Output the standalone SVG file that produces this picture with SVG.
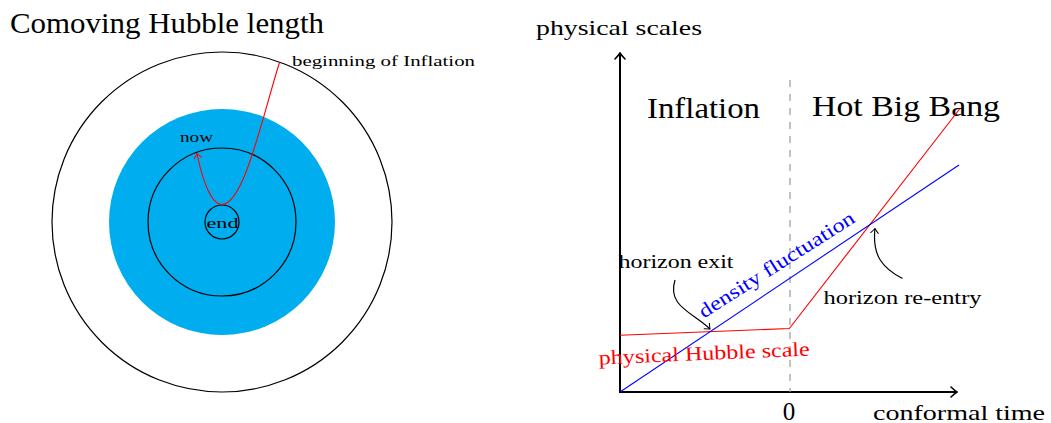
<svg xmlns="http://www.w3.org/2000/svg" width="1051" height="423" viewBox="0 0 1051 423">
<style>
text{font-family:"Liberation Serif","Times New Roman",serif;fill:#000}
.ln{fill:none;stroke:#000;stroke-width:1.2}
.red{fill:none;stroke:#ff0000;stroke-width:1.1}
.blue{fill:none;stroke:#0000ff;stroke-width:1.1}
.axis{fill:none;stroke:#000;stroke-width:2}
</style>
<defs>
<marker id="ab" viewBox="-8 -6 9 12" markerWidth="9" markerHeight="12" refX="0" refY="0" orient="auto" markerUnits="userSpaceOnUse">
<path d="M-6,-5 Q-2,-1.2 0,0 Q-2,1.2 -6,5" fill="none" stroke="#000" stroke-width="1.6" stroke-linecap="round"/>
</marker>
<marker id="at" viewBox="-6 -5 7 10" markerWidth="7" markerHeight="10" refX="0" refY="0" orient="auto" markerUnits="userSpaceOnUse">
<path d="M-4.5,-3.8 Q-1.5,-1 0,0 Q-1.5,1 -4.5,3.8" fill="none" stroke="#000" stroke-width="1" stroke-linecap="round"/>
</marker>
<marker id="ar" viewBox="-6 -5 7 10" markerWidth="7" markerHeight="10" refX="0" refY="0" orient="auto" markerUnits="userSpaceOnUse">
<path d="M-4.5,-3.8 Q-1.5,-1 0,0 Q-1.5,1 -4.5,3.8" fill="none" stroke="#ff0000" stroke-width="1" stroke-linecap="round"/>
</marker>
</defs>

<g id="left-panel">
<text x="10" y="33" font-size="28.5" textLength="314" lengthAdjust="spacingAndGlyphs">Comoving Hubble length</text>
<g id="outer-circle"><circle cx="222" cy="222" r="170" class="ln"/></g>
<g id="blue-disc"><circle cx="222" cy="222" r="113" fill="#00aeef"/></g>
<g id="now-circle"><circle cx="222" cy="222" r="74" class="ln"/>
<text x="196.5" y="141.5" font-size="15" text-anchor="middle" textLength="33" lengthAdjust="spacingAndGlyphs">now</text></g>
<g id="end-circle"><circle cx="222" cy="222" r="17" class="ln"/>
<text x="222.5" y="227.5" font-size="15" text-anchor="middle" textLength="32" lengthAdjust="spacingAndGlyphs">end</text></g>
<g id="beginning-label"><text x="292" y="66" font-size="15" textLength="183" lengthAdjust="spacingAndGlyphs">beginning of Inflation</text></g>
<g id="left-connectors">
<path d="M279.5,62.5 C262,118 244,204 222,204.5 C212,205 203,183 197,153.5" class="red" marker-end="url(#ar)"/>
</g>
</g>

<g id="right-panel">
<g id="axes">
<line x1="620" y1="393" x2="620" y2="53" class="axis" marker-end="url(#ab)"/>
<line x1="619" y1="392" x2="957" y2="392" class="axis" marker-end="url(#ab)"/>
<line x1="790" y1="80" x2="790" y2="392" stroke="#999" stroke-width="1.2" stroke-dasharray="7,7"/>
</g>
<text x="536" y="35" font-size="22" textLength="166" lengthAdjust="spacingAndGlyphs">physical scales</text>
<text x="873" y="420" font-size="22" textLength="172" lengthAdjust="spacingAndGlyphs">conformal time</text>
<text x="789" y="420" font-size="25" text-anchor="middle">0</text>
<text x="647" y="118" font-size="29" textLength="113" lengthAdjust="spacingAndGlyphs">Inflation</text>
<text x="812" y="116" font-size="29" textLength="188" lengthAdjust="spacingAndGlyphs">Hot Big Bang</text>

<g id="connectors">
<polyline points="620,335.3 789.3,328.5 960,108.5" class="red"/>
<line x1="620" y1="392" x2="959" y2="165" class="blue"/>
<path d="M675,280 C667,306 692,312 710,329" class="ln" stroke-width="1" marker-end="url(#at)"/>
<path d="M902.5,278.5 C882,268 872,255 875,228.5" class="ln" stroke-width="1" marker-end="url(#at)"/>
</g>

<g id="density-fluctuation"><text x="780" y="270" font-size="20" style="fill:#0000ff" text-anchor="middle" textLength="181" lengthAdjust="spacingAndGlyphs" transform="rotate(-32.5 780 270)">density fluctuation</text></g>
<g id="hubble-scale"><text x="704.5" y="360" font-size="20" style="fill:#ff0000" text-anchor="middle" textLength="211" lengthAdjust="spacingAndGlyphs" transform="rotate(-2.4 704.5 360)">physical Hubble scale</text></g>
<g id="horizon-exit"><text x="618.5" y="267.5" font-size="18" textLength="115" lengthAdjust="spacingAndGlyphs">horizon exit</text></g>
<g id="horizon-reentry"><text x="823.5" y="303.5" font-size="18" textLength="158" lengthAdjust="spacingAndGlyphs">horizon re-entry</text></g>
</g>
</svg>
